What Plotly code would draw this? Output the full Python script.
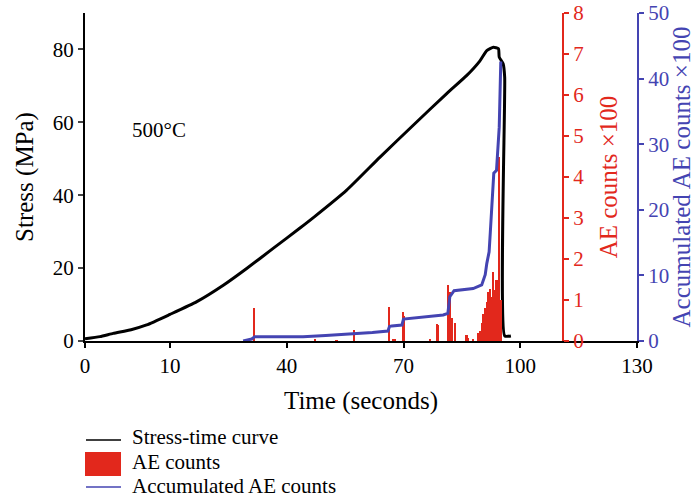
import plotly.graph_objects as go

# ---- data (time in seconds on the displayed linear scale) ----
stress_time = [-11.84, -8.0, -4.6, 0.0, 4.0, 10.0, 16.9, 23.7, 29.7, 36.5, 43.4, 47.0,
               55.4, 63.9, 72.5, 81.1, 86.2, 89.6, 91.4, 93.1, 94.4, 94.6, 95.6, 96.0,
               96.0, 97.6]
stress_mpa = [0.6, 1.2, 2.1, 3.1, 4.4, 7.3, 10.8, 15.3, 19.9, 25.4, 31.0, 34.0,
              41.4, 50.4, 59.2, 67.9, 72.8, 76.8, 79.7, 80.6, 80.2, 77.9, 76.1, 72.4,
              1.4, 1.4]

ae_time = [31.66, 47.3, 52.8, 57.3, 66.3, 67.2, 67.8, 69.8, 70.1, 76.8, 78.5, 78.9,
           81.5, 81.9, 82.4, 83.2, 86.2, 86.6, 87.9, 89.2, 89.6, 90.1, 90.5, 90.9,
           91.4, 91.8, 92.2, 92.7, 93.1, 93.5, 93.9, 94.5, 95.0]
ae_counts = [0.80, 0.03, 0.02, 0.27, 0.82, 0.05, 0.04, 0.71, 0.60, 0.03, 0.41, 0.38,
             1.37, 1.20, 0.55, 0.43, 0.15, 0.08, 0.04, 0.19, 0.25, 0.43, 0.67, 0.80,
             0.96, 1.20, 1.28, 1.08, 1.69, 1.24, 1.49, 4.50, 1.00]

acc_time = [28.8, 31.0, 31.8, 44.2, 50.0, 57.0, 62.0, 66.0, 66.4, 67.0, 69.6, 70.0,
            75.0, 80.2, 81.4, 81.9, 83.0, 87.9, 90.1, 91.0, 91.4, 92.0, 92.3, 92.9,
            93.2, 93.9, 94.3, 94.6, 95.0]
acc_counts = [0.0, 0.3, 0.66, 0.66, 0.85, 1.07, 1.3, 1.52, 2.2, 2.3, 2.44, 3.35,
              3.6, 3.96, 4.2, 6.75, 7.66, 8.0, 8.54, 10.1, 11.8, 13.6, 16.5, 22.8,
              25.6, 26.0, 29.6, 32.6, 42.6]

x_tickvals = [-11.84, 10, 40, 70, 100, 130]
x_ticktext = ["0", "10", "40", "70", "100", "130"]

series_names = ["Stress-time curve", "AE counts", "Accumulated AE counts"]

FONT = "Liberation Serif"
FS = 21
RED = "rgb(226,40,28)"
BLUE = "rgb(68,68,178)"

W, H = 695, 500
# plot-area geometry in page pixels
L, R, T, B = 85, 637, 13, 341

def px(x):
    return (x - L) / (R - L)

def py(y):
    return (B - y) / (B - T)

fig = go.Figure()
fig.add_trace(go.Scatter(x=stress_time, y=stress_mpa, mode="lines", name=series_names[0],
                         line=dict(color="black", width=3, shape="spline", smoothing=0.5),
                         yaxis="y", showlegend=False))
fig.add_trace(go.Bar(x=ae_time, y=ae_counts, name=series_names[1], width=0.55,
                     marker=dict(color=RED, line=dict(width=0)), yaxis="y2", showlegend=False))
fig.add_trace(go.Scatter(x=acc_time, y=acc_counts, mode="lines", name=series_names[2],
                         line=dict(color=BLUE, width=3), yaxis="y3", showlegend=False))

# legend (drawn below the plot)
shapes = [
    dict(type="line", xref="paper", yref="paper", x0=px(86), x1=px(121), y0=py(440), y1=py(440),
         line=dict(color="black", width=1.5)),
    dict(type="rect", xref="paper", yref="paper", x0=px(85), x1=px(121), y0=py(476), y1=py(452),
         fillcolor=RED, line=dict(width=0)),
    dict(type="line", xref="paper", yref="paper", x0=px(86), x1=px(121), y0=py(487), y1=py(487),
         line=dict(color=BLUE, width=1.5)),
]
legend_rows_y = [437, 462, 486]
annotations = [dict(text=n, x=px(130), y=py(yy), xref="paper", yref="paper",
                    xanchor="left", yanchor="middle", showarrow=False,
                    font=dict(family=FONT, size=FS, color="black"))
               for n, yy in zip(series_names, legend_rows_y)]
annotations.append(dict(text="500°C", x=px(130), y=py(130), xref="paper", yref="paper",
                        xanchor="left", yanchor="middle", showarrow=False,
                        font=dict(family=FONT, size=FS)))

fig.update_layout(
    width=W, height=H,
    margin=dict(l=L, r=W - R, t=T, b=H - B, autoexpand=False),
    paper_bgcolor="white", plot_bgcolor="white",
    font=dict(family=FONT, size=FS, color="black"),
    showlegend=False,
    bargap=0,
    xaxis=dict(range=[-11.84, 130], tickvals=x_tickvals, ticktext=x_ticktext,
               showline=True, linecolor="black", linewidth=2, ticks="outside",
               ticklen=5, tickwidth=2, tickcolor="black", showgrid=False, zeroline=False,
               automargin=False, title=dict(text="Time (seconds)", standoff=14)),
    yaxis=dict(range=[0, 90], tickvals=[0, 20, 40, 60, 80], showline=True, linecolor="black",
               linewidth=2, ticks="outside", ticklen=5, tickwidth=2, showgrid=False,
               zeroline=False, automargin=False, title=dict(text="Stress (MPa)", standoff=12)),
    yaxis2=dict(range=[0, 8], dtick=1, overlaying="y", side="right", anchor="free",
                position=px(563), showline=True, linecolor=RED, linewidth=2,
                ticks="outside", ticklen=5, tickwidth=2, tickcolor=RED,
                tickfont=dict(color=RED), ticklabeloverflow="allow",
                showgrid=False, zeroline=False, automargin=False,
                title=dict(text="AE counts ×100", font=dict(color=RED), standoff=15)),
    yaxis3=dict(range=[0, 50], dtick=10, overlaying="y", side="right", anchor="x",
                showline=True, linecolor=BLUE, linewidth=2, ticks="outside", ticklen=5,
                tickwidth=2, tickcolor=BLUE, tickfont=dict(color=BLUE),
                ticklabeloverflow="allow", showgrid=False, zeroline=False, automargin=False,
                title=dict(text="Accumulated AE counts ×100", font=dict(color=BLUE), standoff=25)),
    shapes=shapes,
    annotations=annotations,
)

fig.write_html("out.html", config={"displayModeBar": False},
               post_script="document.body.style.margin='0';")
